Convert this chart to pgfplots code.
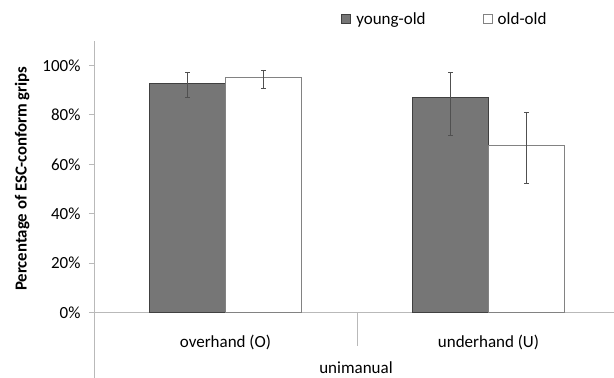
\documentclass[border=0pt]{standalone}
\usepackage{pgfplots}
\pgfplotsset{compat=1.18}
\usepackage{fontspec}
\setmainfont{Carlito}
\definecolor{axisgray}{RGB}{185,185,185}
\definecolor{darkbar}{RGB}{118,118,118}
\definecolor{darkedge}{RGB}{64,64,64}
\definecolor{whiteedge}{RGB}{130,130,130}
\definecolor{errgray}{RGB}{80,80,80}
\newcommand{\fs}{\fontsize{17}{20}\selectfont}
\begin{document}
\begin{tikzpicture}[x=1pt,y=1pt]
\useasboundingbox (0,0) rectangle (614,378);
\begin{axis}[
  at={(94pt,65.3pt)}, anchor=south west,
  scale only axis, width=520pt, height=272pt,
  xmin=-0.5, xmax=1.4772, ymin=0, ymax=110,
  axis x line*=bottom, axis y line*=left,
  axis line style={axisgray, line width=0.8pt},
  every outer x axis line/.append style={-}, every outer y axis line/.append style={-},
  ybar=0pt, bar width=76pt,
  xtick={0,1}, xticklabels={overhand (O), underhand (U)},
  x tick style={draw=none},
  xticklabel style={anchor=base, yshift=-30pt, font=\fs},
  ytick={0,20,40,60,80,100},
  yticklabel={\pgfmathprintnumber{\tick}\%},
  y tick style={axisgray, line width=0.8pt},
  tick align=outside, major tick length=5pt,
  yticklabel style={font=\fs, xshift=-5pt, /pgf/number format/assume math mode=true},
  ylabel={\bfseries Percentage of ESC-conform grips},
  ylabel style={font=\fontsize{16.8}{19}\selectfont},
  every axis y label/.append style={at={(-61pt,134pt)}, anchor=south},
  legend columns=2,
  legend style={draw=none, fill=none, font=\fs, at={(0.475,1.08)}, anchor=west,
    inner sep=0pt, nodes={inner sep=0pt},
    /tikz/every odd column/.append style={column sep=5.5pt},
    /tikz/every even column/.append style={column sep=57pt}},
  legend image code/.code={\draw[#1,line width=0.6pt] (0pt,-4.5pt) rectangle (9pt,4.5pt);},
  error bars/error bar style={errgray, line width=0.8pt},
  error bars/error mark options={rotate=90, mark size=2.3pt, line width=0.8pt, errgray},
  clip=false,
]
\addplot[fill=darkbar, draw=darkedge, line width=0.8pt,
  error bars/.cd, y dir=both, y explicit]
  coordinates {(0,92.7) += (0,4.5) -= (0,5.8)
               (1,87.0) += (0,10.0) -= (0,15.4)};
\addlegendentry{young-old}
\addplot[fill=white, draw=whiteedge, line width=0.8pt,
  error bars/.cd, y dir=both, y explicit]
  coordinates {(0,95.0) += (0,3.0) -= (0,4.3)
               (1,67.6) += (0,13.5) -= (0,15.4)};
\addlegendentry{old-old}
\draw[axisgray, line width=0.8pt] (axis cs:0.5,0) -- ([yshift=-33pt]axis cs:0.5,0);
\end{axis}
\draw[axisgray, line width=0.8pt] (94,65.3) -- (94,0);
\node[font=\fs, anchor=base] at (356,5) {unimanual};
\end{tikzpicture}
\end{document}
